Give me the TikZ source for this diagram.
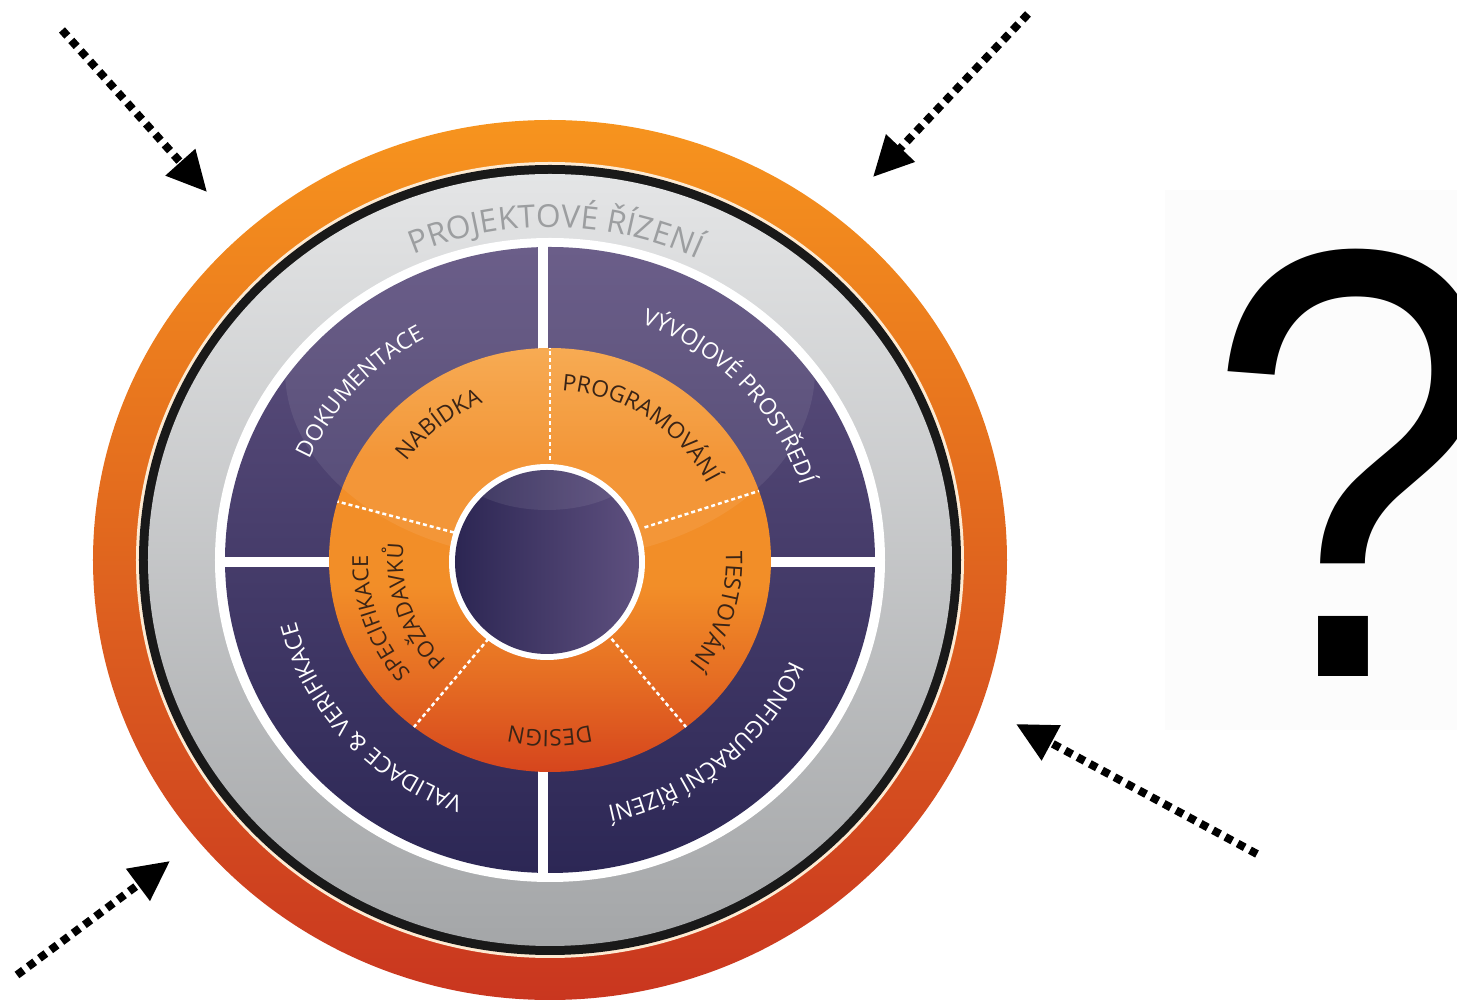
\documentclass[tikz,border=0pt]{standalone}
\usepackage{fontspec}
\newfontfamily\wheelfont{Open Sans}
\newfontfamily\askfont{Liberation Sans}
\usetikzlibrary{arrows.meta,decorations.text}

\definecolor{ringtop}{HTML}{F7941E}
\definecolor{ringbot}{HTML}{C9361F}
\definecolor{graytop}{HTML}{E4E5E6}
\definecolor{graybot}{HTML}{A4A6A8}
\definecolor{violtop}{HTML}{5F517F}
\definecolor{violbot}{HTML}{2C2755}
\definecolor{coretop}{HTML}{F7A445}
\definecolor{coremid}{HTML}{F28E28}
\definecolor{corebot}{HTML}{D6451D}
\definecolor{hubleft}{HTML}{2C2653}
\definecolor{hubright}{HTML}{5E507F}
\definecolor{phasetext}{HTML}{3A2416}
\definecolor{pmtext}{HTML}{9C9EA0}

\pgfdeclareverticalshading{coreshade}{100bp}{color(0bp)=(corebot); color(25bp)=(corebot);
    color(36bp)=(corebot!45!coremid); color(47bp)=(coremid); color(62bp)=(coremid);
    color(75bp)=(coretop); color(100bp)=(coretop)}

\begin{document}
\begin{tikzpicture}[x=0.02cm,y=0.02cm]
    \useasboundingbox (-550,-443) rectangle (907,560);

    \tikzstyle{inflow}=[line width=0.16cm,dash pattern=on 0.16cm off 0.12cm,
                        -{Triangle[length=0.8cm,width=0.76cm]}]
    \tikzstyle{cut}=[white,line width=0.05cm,dash pattern=on 0.08cm off 0.06cm]
    \tikzset{area/.style={decorate,decoration={text along path,text align=center,
                 text={|\wheelfont\fontsize{13}{13}\selectfont\color{white}|#1}}},
             phase/.style={decorate,decoration={text along path,text align=center,
                 text={|\wheelfont\fontsize{13}{13}\selectfont\color{phasetext}|#1}}},
             need/.style={decorate,decoration={text along path,text align=center,
                 text={|\wheelfont\fontsize{12.5}{12.5}\selectfont\color{phasetext}|#1}}},
             pm/.style={decorate,decoration={text along path,text align=center,
                 text={|\wheelfont\fontsize{18}{18}\selectfont\color{pmtext}|#1}}}}

    % Draw rings, outside in
    \shade[top color=ringtop,bottom color=ringbot] (0,0) ellipse [x radius=457,y radius=440];
    \fill[white!80!ringtop] (0,0) ellipse [x radius=414,y radius=398];
    \fill[black!90] (0,0) ellipse [x radius=411,y radius=395];
    \shade[top color=graytop,bottom color=graybot] (0,0) ellipse [x radius=402,y radius=386];
    \fill[white] (0,0) ellipse [x radius=335,y radius=322];
    \shade[top color=violtop,bottom color=violbot] (0,0) ellipse [x radius=325,y radius=313];
    \draw[white,line width=0.2cm] (-7,318) -- (-7,-318) (-330,-2) -- (330,-2);
    \shade[shading=coreshade] (0,0) ellipse [x radius=221,y radius=212];
    \begin{scope}
        \clip (0,0) ellipse [x radius=325,y radius=313];
        \fill[white,opacity=0.08] (0,190) ellipse [x radius=265,y radius=190];
    \end{scope}

    % Draw hub
    \fill[white] (-3,-2) circle [radius=98];
    \shade[left color=hubleft,right color=hubright] (-3,-2) circle [radius=92];
    \begin{scope}
        \clip (-3,-2) circle [radius=92];
        \fill[white,opacity=0.08] (-3,120) ellipse [x radius=110,y radius=70];
    \end{scope}

    % Phase borders
    \foreach \a in {90,19,-52,232,164}
        \draw[cut] ({100*cos(\a)},{100*sin(\a)}) -- ({221*cos(\a)},{212*sin(\a)});

    % Labels
    \path[pm=PROJEKTOVÉ ŘÍZENÍ] (139:345 and 333) arc [start angle=139,end angle=39,x radius=345,y radius=333];
    \path[area=DOKUMENTACE] (188:262 and 252) arc [start angle=188,end angle=88,x radius=262,y radius=252];
    \path[area=VÝVOJOVÉ PROSTŘEDÍ] (93:262 and 252) arc [start angle=93,end angle=-7,x radius=262,y radius=252];
    \path[area=KONFIGURAČNÍ ŘÍZENÍ] (0:262 and 252) arc [start angle=0,end angle=-100,x radius=262,y radius=252];
    \path[area={VALIDACE {\&} VERIFIKACE}] (272:262 and 252) arc [start angle=272,end angle=172,x radius=262,y radius=252];
    \path[phase=NABÍDKA] (179:176 and 170) arc [start angle=179,end angle=79,x radius=176,y radius=170];
    \path[phase=PROGRAMOVÁNÍ] (106:176 and 170) arc [start angle=106,end angle=6,x radius=176,y radius=170];
    \path[phase=TESTOVÁNÍ] (33:176 and 170) arc [start angle=33,end angle=-67,x radius=176,y radius=170];
    \path[phase=DESIGN] (-40:176 and 170) arc [start angle=-40,end angle=-140,x radius=176,y radius=170];
    \path[need=SPECIFIKACE] (259:182 and 176) arc [start angle=259,end angle=139,x radius=182,y radius=176];
    \path[need=POŽADAVKŮ] (259:147 and 142) arc [start angle=259,end angle=139,x radius=147,y radius=142];

    % Incoming arrows
    \coordinate (src1) at (-488,530);  \coordinate (tip1) at (-343,368);
    \coordinate (src2) at (478,546);   \coordinate (tip2) at (323,383);
    \coordinate (src3) at (707,-294);  \coordinate (tip3) at (466,-164);
    \coordinate (src4) at (-533,-415); \coordinate (tip4) at (-380,-301);
    \foreach \i in {1,...,4}
        \draw[inflow] (src\i) -- (tip\i);

    % Question mark
    \fill[black!1] (615,370) rectangle (907,-170);
    \node[anchor=base west,inner sep=0pt,xscale=0.89,yscale=1.04,
          font=\askfont\fontsize{335}{335}\selectfont] (ask) at (656,-117) {?};
\end{tikzpicture}
\end{document}
